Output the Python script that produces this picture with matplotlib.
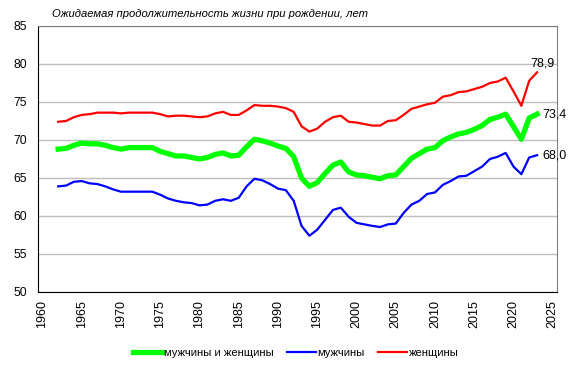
import matplotlib
matplotlib.use("Agg")
import matplotlib.pyplot as plt

plt.rcParams['font.family'] = ['Liberation Sans', 'DejaVu Sans']

years = list(range(1962, 2024))

total = [68.8, 68.9, 69.3, 69.6, 69.5, 69.5, 69.3, 69.0, 68.8, 69.0,
         69.0, 69.0, 69.0, 68.5, 68.2, 67.9, 67.9, 67.7, 67.5, 67.7,
         68.1, 68.3, 67.9, 68.0, 69.1, 70.1, 69.9, 69.6, 69.2, 68.9,
         67.8, 65.0, 63.9, 64.4, 65.6, 66.7, 67.1, 65.8, 65.4, 65.3,
         65.1, 64.9, 65.3, 65.4, 66.5, 67.6, 68.2, 68.8, 69.0, 69.9,
         70.4, 70.8, 71.0, 71.4, 71.9, 72.7, 73.0, 73.4, 71.75, 70.1,
         72.9, 73.4]

men = [63.9, 64.0, 64.5, 64.6, 64.3, 64.2, 63.9, 63.5, 63.2, 63.2,
       63.2, 63.2, 63.2, 62.8, 62.3, 62.0, 61.8, 61.7, 61.4, 61.5,
       62.0, 62.2, 62.0, 62.4, 63.9, 64.9, 64.7, 64.2, 63.6, 63.4,
       62.0, 58.7, 57.4, 58.2, 59.5, 60.8, 61.1, 59.9, 59.1, 58.9,
       58.7, 58.55, 58.9, 59.0, 60.4, 61.5, 62.0, 62.9, 63.1, 64.1,
       64.6, 65.2, 65.3, 65.9, 66.5, 67.5, 67.8, 68.3, 66.5, 65.5,
       67.7, 68.0]

women = [72.4, 72.5, 73.0, 73.3, 73.4, 73.6, 73.6, 73.6, 73.5, 73.6,
         73.6, 73.6, 73.6, 73.4, 73.1, 73.2, 73.2, 73.1, 73.0, 73.1,
         73.5, 73.7, 73.3, 73.3, 73.9, 74.6, 74.5, 74.5, 74.4, 74.2,
         73.7, 71.8, 71.1, 71.5, 72.4, 73.0, 73.2, 72.4, 72.3, 72.1,
         71.9, 71.9, 72.5, 72.6, 73.3, 74.1, 74.4, 74.7, 74.9, 75.7,
         75.9, 76.3, 76.4, 76.7, 77.0, 77.5, 77.7, 78.2, 76.4, 74.5,
         77.8, 78.9]

labels = ["мужчины и женщины", "мужчины", "женщины"]
end_labels = ["73,4", "68,0", "78,9"]
title = "Ожидаемая продолжительность жизни при рождении, лет"
x_ticks = list(range(1960, 2030, 5))
y_ticks = list(range(50, 90, 5))

fig = plt.figure(figsize=(5.72, 3.72), dpi=100)
ax = fig.add_axes([38/572, 80/372, (557-38)/572, (292-26)/372])

ax.plot(years, total, color="#00FF00", lw=3.8, label=labels[0], solid_joinstyle="round", zorder=3)
ax.plot(years, men, color="#0000FF", lw=1.6, label=labels[1], zorder=3)
ax.plot(years, women, color="#FF0000", lw=1.6, label=labels[2], zorder=3)

ax.set_xlim(1959.43, 2025.54)
ax.set_ylim(50, 85)
ax.set_xticks(x_ticks)
ax.set_yticks(y_ticks)
ax.set_xticklabels([str(t) for t in x_ticks], rotation=90, fontsize=9)
ax.set_yticklabels([str(t) for t in y_ticks], fontsize=8.7)
ax.tick_params(length=0, pad=6)
ax.tick_params(axis='y', pad=8)
ax.grid(axis='y', color="#BEBEBE", lw=1)
ax.set_axisbelow(True)
for s in ["top", "right"]:
    ax.spines[s].set_color("#808080")
for s in ["left", "bottom"]:
    ax.spines[s].set_color("black")

ax.annotate(end_labels[2], (years[-1], women[-1]), xytext=(-5, 2), textcoords="offset points",
            ha="left", va="bottom", fontsize=9)
ax.annotate(end_labels[0], (years[-1], total[-1]), xytext=(4, 0), textcoords="offset points",
            ha="left", va="center", fontsize=9)
ax.annotate(end_labels[1], (years[-1], men[-1]), xytext=(4, 0), textcoords="offset points",
            ha="left", va="center", fontsize=9)

fig.text(52/572, 1 - 14/372, title, fontsize=8.1, style="italic", va="center", ha="left")

fig.legend(loc="center", bbox_to_anchor=(296/572, 1 - 353/372), ncol=3, frameon=False,
           fontsize=8.1, handlelength=2.6, handletextpad=0.15, columnspacing=1.15)

fig.savefig("out.png", dpi=100)
